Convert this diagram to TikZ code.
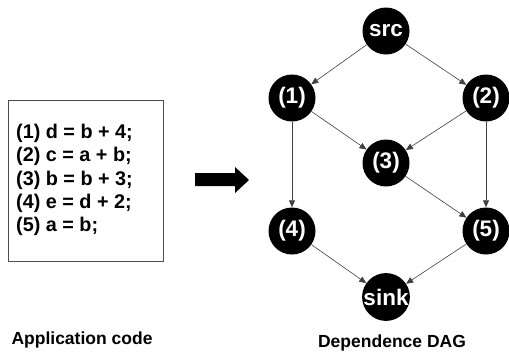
\documentclass[tikz,border=0pt]{standalone}
\usepackage{fontspec}
\setmainfont{Liberation Sans}
\usetikzlibrary{arrows.meta}
\begin{document}
\begin{tikzpicture}[x=1pt,y=-1pt,
  dagnode/.style={circle,fill=black,minimum size=47pt,inner sep=0pt,text=white,font=\fontsize{22.5}{24}\selectfont\bfseries},
  dep/.style={draw=black!75,line width=0.6pt,-{Triangle[length=7pt,width=6pt]}},
  caption/.style={font=\fontsize{17.5}{20}\selectfont\bfseries}]
\useasboundingbox (0,0) rectangle (509,354);
\node[draw=black!70,line width=0.8pt,minimum width=155pt,minimum height=161pt,inner sep=0pt] (box) at (85.5,180.5) {};
\node[anchor=west,align=left,inner sep=0pt,font=\fontsize{19.8}{23.3}\selectfont\bfseries] (code) at (16,180)
 {(1) d = b + 4;\\(2) c = a + b;\\(3) b = b + 3;\\(4) e = d + 2;\\(5) a = b;};
\fill[black] (195,173) -- (235,173) -- (235,167) -- (249,180) -- (235,193) -- (235,186) -- (195,186) -- cycle;
\node[dagnode] (src) at (386,31) {src};
\node[dagnode] (n1) at (292,98) {(1)};
\node[dagnode] (n2) at (486,98) {(2)};
\node[dagnode] (n3) at (386,163) {(3)};
\node[dagnode] (n4) at (292,231) {(4)};
\node[dagnode] (n5) at (486,231) {(5)};
\node[dagnode] (sink) at (386,297) {sink};
\draw[dep] (src) -- (n1);
\draw[dep] (src) -- (n2);
\draw[dep] (n1) -- (n3);
\draw[dep] (n2) -- (n3);
\draw[dep] (n1) -- (n4);
\draw[dep] (n2) -- (n5);
\draw[dep] (n3) -- (n5);
\draw[dep] (n4) -- (sink);
\draw[dep] (n5) -- (sink);
\node[caption] (cap1) at (82,340) {Application code};
\node[caption] (cap2) at (392,343) {Dependence DAG};
\end{tikzpicture}
\end{document}
